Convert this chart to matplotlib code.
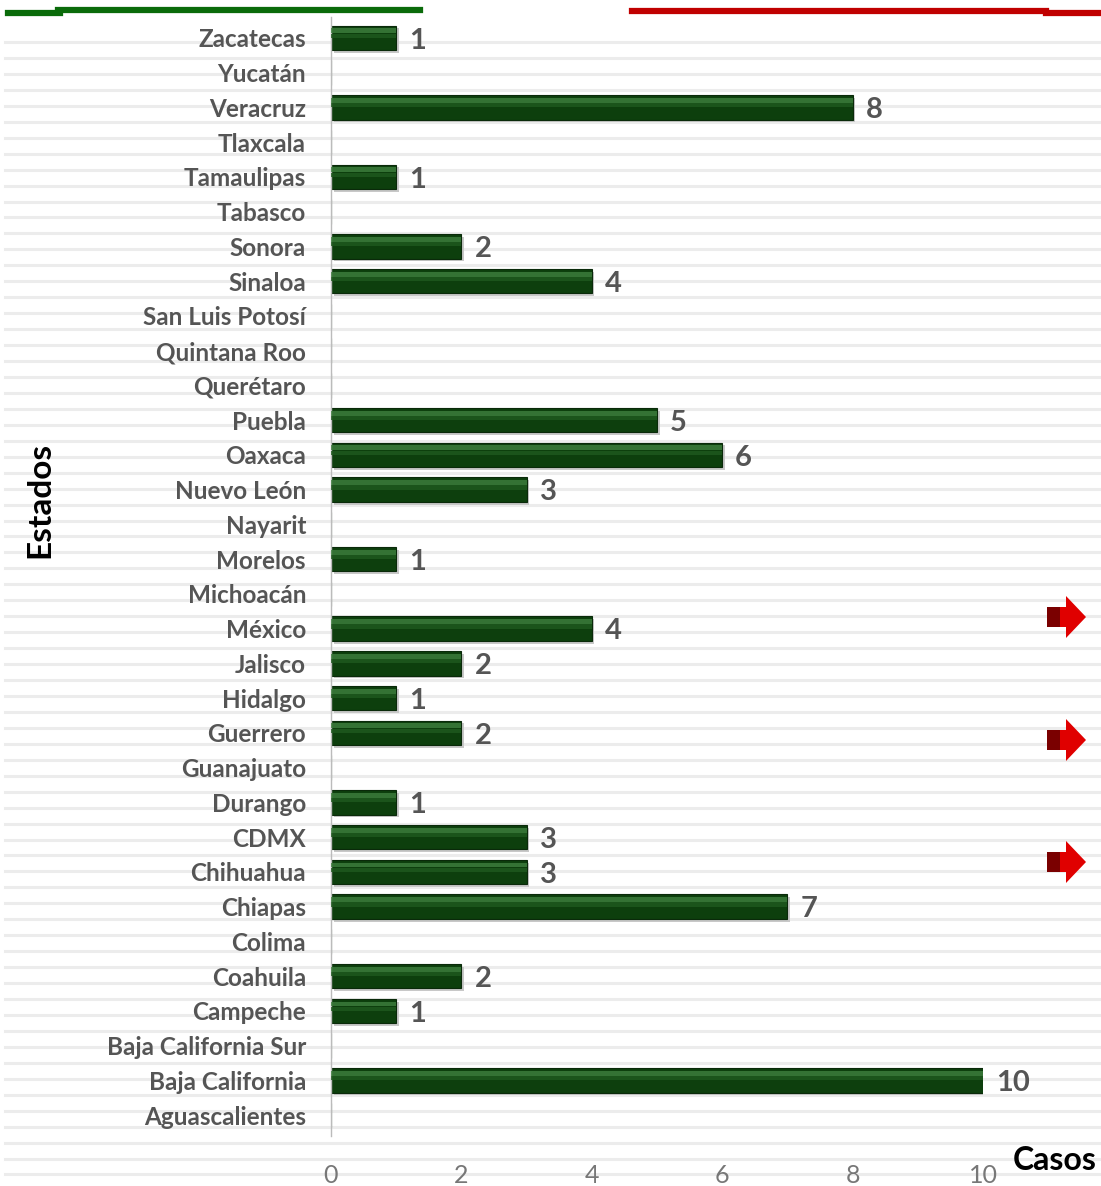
import numpy as np
import matplotlib
matplotlib.use("Agg")
import matplotlib.pyplot as plt
from matplotlib.lines import Line2D
from matplotlib.patches import Polygon

# Estados (de arriba hacia abajo) y casos
estados = ["Zacatecas", "Yucatán", "Veracruz", "Tlaxcala", "Tamaulipas", "Tabasco",
           "Sonora", "Sinaloa", "San Luis Potosí", "Quintana Roo", "Querétaro",
           "Puebla", "Oaxaca", "Nuevo León", "Nayarit", "Morelos", "Michoacán",
           "México", "Jalisco", "Hidalgo", "Guerrero", "Guanajuato", "Durango",
           "CDMX", "Chihuahua", "Chiapas", "Colima", "Coahuila", "Campeche",
           "Baja California Sur", "Baja California", "Aguascalientes"]
casos = [1, 0, 8, 0, 1, 0, 2, 4, 0, 0, 0, 5, 6, 3, 0, 1, 0, 4, 2, 1, 2, 0, 1,
         3, 3, 7, 0, 2, 1, 0, 10, 0]
xticks = [0, 2, 4, 6, 8, 10]

W, H = 1101, 1186
fig = plt.figure(figsize=(W / 100, H / 100), dpi=100)
fig.patch.set_facecolor("white")

def fx(px):
    return px / W

def fy(py):
    return 1 - py / H

# background stripes
for yy in np.arange(42, 1186, 15.95):
    fig.add_artist(Line2D([fx(5), 1], [fy(yy), fy(yy)], color="#ececec", lw=2.2, zorder=0))

# top decorative lines
fig.add_artist(Line2D([fx(8), fx(60)], [fy(13), fy(13)], color="#0a6b0a", lw=4.5))
fig.add_artist(Line2D([fx(58), fx(420)], [fy(10), fy(10)], color="#0a6b0a", lw=4.5))
fig.add_artist(Line2D([fx(632), fx(1046)], [fy(11), fy(11)], color="#c00000", lw=4.5))
fig.add_artist(Line2D([fx(1046), 1], [fy(13), fy(13)], color="#c00000", lw=4.5))

# red arrows
for yc in [617, 740, 862]:
    pts = [(1047, yc - 10), (1066, yc - 10), (1066, yc - 21), (1086, yc),
           (1066, yc + 21), (1066, yc + 10), (1047, yc + 10)]
    fig.add_artist(Polygon([(fx(a), fy(b)) for a, b in pts], closed=True,
                           facecolor="#e00000", edgecolor="none"))
    body = [(1047, yc - 10), (1060, yc - 10), (1060, yc + 10), (1047, yc + 10)]
    fig.add_artist(Polygon([(fx(a), fy(b)) for a, b in body], closed=True,
                           facecolor="#7a0000", edgecolor="none"))

ax = fig.add_axes([fx(331), fy(1136), fx(983) - fx(331), fy(17) - fy(1136)])
ax.set_facecolor("none")

n = len(estados)
ypos = np.arange(n)[::-1]
vals = np.array(casos)

# shadow, bar and highlight
ax.barh(ypos - 0.08, vals, height=0.7, left=0.04, color="#c8c8c8", zorder=1)
ax.barh(ypos, vals, height=0.7, color="#0d3f0d", edgecolor="#0a2a0a", lw=0.8, zorder=2)
ax.barh(ypos + 0.2, vals, height=0.14, color="#3f7f3f", alpha=0.8, zorder=3)
ax.barh(ypos + 0.06, vals, height=0.12, color="#1f5a1f", alpha=0.8, zorder=3)

for y, v in zip(ypos, vals):
    if v > 0:
        ax.text(v + 0.2, y - 0.08, str(v), va="center", ha="left", fontsize=21,
                fontweight="bold", color="#555555", family="Lato", clip_on=False)

ax.set_xlim(0, 10)
ax.set_ylim(-0.6, n - 0.4)
ax.set_yticks(ypos)
ax.set_yticklabels(estados, fontsize=17.5, color="#555555", family="Lato", fontweight="bold")
ax.set_xticks(xticks)
ax.set_xticklabels([str(t) for t in xticks], fontsize=18, color="#777777", family="Lato")
ax.tick_params(axis="y", length=0, pad=18)
ax.tick_params(axis="x", length=0, pad=20)
for s in ["top", "right", "bottom"]:
    ax.spines[s].set_visible(False)
ax.spines["left"].set_color("#bbbbbb")
ax.spines["left"].set_linewidth(1)

fig.text(fx(40), fy(500), "Estados", rotation=90, ha="center", va="center",
         fontsize=24, fontweight="bold", color="black", family="Lato")
fig.text(fx(1055), fy(1160), "Casos", ha="center", va="center",
         fontsize=23, fontweight="bold", color="black", family="Lato")

fig.savefig("out.png", dpi=100)
